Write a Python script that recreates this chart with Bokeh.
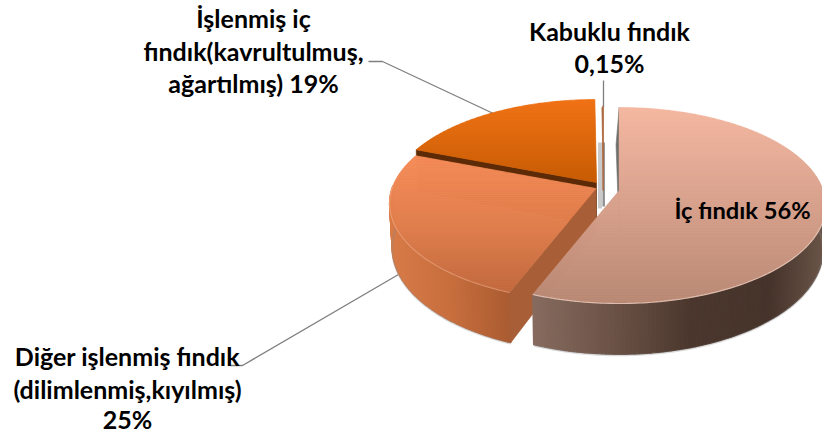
import math
from bokeh.plotting import figure
from bokeh.models import Range1d
from bokeh.core.properties import value
from bokeh.embed import file_html
from bokeh.resources import INLINE

# ---- data
categories = ["İç fındık", "Diğer işlenmiş fındık", "İşlenmiş iç fındık", "Kabuklu fındık"]
shares = [56, 25, 19, 0.15]
label_lines = [
    ["İç fındık 56%"],
    ["Diğer işlenmiş fındık", "(dilimlenmiş,kıyılmış)", "25%"],
    ["İşlenmiş iç", "fındık(kavrultulmuş,", "ağartılmış) 19%"],
    ["Kabuklu fındık", "0,15%"],
]

# ---- layout of the pseudo-3D pie (screen pixels)
W, H = 822, 437
A, B, P = 204.0, 95.7, 0.153      # semi axes and perspective
DEPTH = 43.0
APEX = [(618.7, 190.0), (595.5, 188.0), (596.0, 182.0), (603.0, 190.0)]
LABEL_POS = [
    [(742, 209)],
    [(127, 355), (127, 388), (127, 418)],
    [(253, 17), (253, 50), (253, 82)],
    [(609, 30), (609, 62)],
]
LABEL_SIZE = ["23.7px", "25px", "25px", "25px"]
LEADERS = [([229, 242, 398], [365, 365, 274]),
           ([368, 382, 495], [61, 61, 114]),
           ([603, 603], [80, 107])]
FACE_STOPS = [
    [(107, "#f4b7a0"), (200, "#d8a18c"), (303, "#b88773")],
    [(150, "#f78d59"), (225, "#e07d4b"), (300, "#bd653b")],
    [(101, "#ef7012"), (185, "#c55900")],
]
SIDE_STOPS = [
    [(534, "#866a5e"), (610, "#6c5347"), (690, "#4b372d"), (770, "#46342b"), (822, "#6a5448")],
    [(388, "#d87b48"), (450, "#c76e3e"), (510, "#a95b31")],
]


def hex2rgb(c):
    return tuple(int(c[i:i + 2], 16) for i in (1, 3, 5))


def ramp(stops, t):
    if t <= stops[0][0]:
        return stops[0][1]
    for (t0, c0), (t1, c1) in zip(stops, stops[1:]):
        if t <= t1:
            f = (t - t0) / (t1 - t0)
            a, b = hex2rgb(c0), hex2rgb(c1)
            return "#%02x%02x%02x" % tuple(round(a[i] + (b[i] - a[i]) * f) for i in range(3))
    return stops[-1][1]


def proj(apex, theta, r=1.0, bottom=False):
    """theta in degrees clockwise from the top of the pie."""
    u = math.sin(math.radians(theta)) * r
    v = -math.cos(math.radians(theta)) * r
    s = 1 / (1 - P * v)
    x = apex[0] + A * u * s
    y = apex[1] + B * v * s
    if bottom:
        y += DEPTH * s
        x += (607 - x) * 0.012 - 3 * max(0.0, -v)
    return x, y


def frange(a, b, step=1.0):
    n = max(2, int(abs(b - a) / step) + 1)
    return [a + (b - a) * i / (n - 1) for i in range(n)]


def clip_band(poly, y0, y1):
    def clip(pts, keep, cross):
        out = []
        for i, q in enumerate(pts):
            pr = pts[i - 1]
            if keep(q):
                if not keep(pr):
                    out.append(cross(pr, q))
                out.append(q)
            elif keep(pr):
                out.append(cross(pr, q))
        return out

    def at(yv):
        def cr(a, b):
            t = (yv - a[1]) / (b[1] - a[1])
            return (a[0] + (b[0] - a[0]) * t, yv)
        return cr
    pts = clip(poly, lambda q: q[1] >= y0, at(y0))
    if pts:
        pts = clip(pts, lambda q: q[1] <= y1, at(y1))
    return pts


p = figure(width=W, height=H, output_backend="svg", toolbar_location=None,
           x_range=Range1d(0, W), y_range=Range1d(H, 0),
           x_axis_location=None, y_axis_location=None,
           min_border=0, outline_line_color=None)
p.grid.visible = False
p.background_fill_color = "white"
p.border_fill_color = "white"


def draw_poly(pts, color, alpha=1.0):
    p.patch([q[0] for q in pts], [q[1] for q in pts], fill_color=color,
            line_color=color, line_width=0.6, fill_alpha=alpha, line_alpha=alpha)


def draw_face(poly, stops, step=2.0):
    ys = [q[1] for q in poly]
    xs_all, ys_all, cols = [], [], []
    y = math.floor(min(ys))
    while y < max(ys):
        band = clip_band(poly, y, y + step)
        if len(band) >= 3:
            xs_all.append([q[0] for q in band])
            ys_all.append([q[1] for q in band])
            cols.append(ramp(stops, y + step / 2))
        y += step
    p.patches(xs_all, ys_all, fill_color=cols, line_color=cols, line_width=0.7)


def draw_rim(apex, t0, t1, stops):
    xs_all, ys_all, cols = [], [], []
    ts = frange(t0, t1, 1.0)
    for a, b in zip(ts, ts[1:]):
        q = [proj(apex, a), proj(apex, b), proj(apex, b, bottom=True), proj(apex, a, bottom=True)]
        xs_all.append([k[0] for k in q])
        ys_all.append([k[1] for k in q])
        cols.append(ramp(stops, (q[0][0] + q[1][0]) / 2))
    p.patches(xs_all, ys_all, fill_color=cols, line_color=cols, line_width=1.4)
    # soft shadow below the wall
    bot = [proj(apex, t, bottom=True) for t in ts]
    p.line([k[0] for k in bot], [k[1] + 1 for k in bot], line_color="#888888", line_alpha=0.3, line_width=2)


def cut_wall(apex, theta, color):
    draw_poly([apex, proj(apex, theta), proj(apex, theta, bottom=True),
               (apex[0], apex[1] + DEPTH)], color)


def face_poly(apex, t0, t1):
    return [apex] + [proj(apex, t) for t in frange(t0, t1, 1.0)]


# slice angles derived from the shares
total = sum(shares)
edges = [0.0]
for s in shares:
    edges.append(edges[-1] + s / total * 360)

# leaders sit beneath the pie
for lx, ly in LEADERS:
    p.line(lx, ly, line_color="#7f7f7f", line_width=1.3)

# 19 % slice
cut_wall(APEX[2], edges[2], "#5c2a06")
draw_face(face_poly(APEX[2], edges[2], edges[3]), FACE_STOPS[2])

# 0,15 % slice: a thin wedge and the grey cut walls that can be seen behind it
p.line([599.5, 599.5], [142, 208], line_color="#c9c9c9", line_width=4)
p.line([603.2, 603.2], [142, 206], line_color="#8d8d8d", line_width=2.4)
draw_poly(face_poly(APEX[3], edges[3], edges[4]), "#b0673a")
p.line([602.4, 602.4], [105, 190], line_color="#ad6a42", line_width=1)

# 56 % slice: the far cut wall lies behind the 25 % slice
cut_wall(APEX[0], edges[0], "#6f6f6d")

# 25 % slice
draw_rim(APEX[1], edges[1], 272, SIDE_STOPS[1])
cut_wall(APEX[1], edges[1], "#a85e36")
draw_face(face_poly(APEX[1], edges[1], edges[2]), FACE_STOPS[1])

# 56 % slice
draw_rim(APEX[0], 88, edges[1], SIDE_STOPS[0])
draw_face(face_poly(APEX[0], edges[0], edges[1]), FACE_STOPS[0])

# bevel highlights on the near rims
for apex, t0, t1, col, al in [(APEX[1], edges[1], 272, "#ffc9a8", 0.4), (APEX[0], 88, edges[1], "#f2d6c9", 0.7)]:
    r = [proj(apex, t) for t in frange(t0, t1, 1.0)]
    p.line([k[0] for k in r], [k[1] for k in r], line_color=col, line_width=1.2, line_alpha=al)

# labels
for lines, pos, size in zip(label_lines, LABEL_POS, LABEL_SIZE):
    for txt, (x, y) in zip(lines, pos):
        p.text([x], [y], text=[txt], text_font=value("Lato"), text_font_style="bold",
               text_font_size=size, text_color="#000000", text_align="center",
               text_baseline="middle")

open("out.html", "w").write(file_html(p, INLINE))
